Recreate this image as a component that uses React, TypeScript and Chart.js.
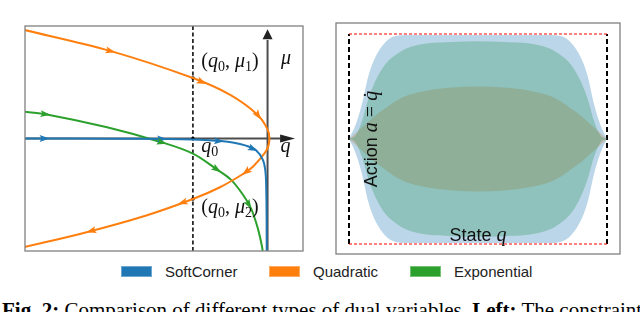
import React, { useEffect, useRef } from "react";
import { Chart, registerables } from "chart.js";

Chart.register(...registerables);

// ---------- Left panel: state q (x) vs dual variable mu (y) ----------
const softCornerQ = [-2.6, -1.6, -1.13, -0.8, -0.52, -0.36, -0.24, -0.124, -0.05, -0.022, -0.013, -0.01, -0.009];
const softCornerMu = [0, -0.002, -0.005, -0.01, -0.023, -0.037, -0.061, -0.104, -0.19, -0.3, -0.5, -0.75, -1.02];

const quadraticQ = [-2.64, -1.68, -0.8, -0.4, -0.11, -0.005, 0.02, -0.008, -0.155, -0.25, -0.51, -0.8, -1.3, -1.97, -2.64];
const quadraticMu = [0.975, 0.78, 0.54, 0.39, 0.215, 0.09, 0, -0.1, -0.25, -0.31, -0.435, -0.54, -0.687, -0.843, -0.975];

const exponentialQ = [-2.65, -2.38, -1.72, -1.13, -0.8, -0.54, -0.396, -0.265, -0.176, -0.105, -0.061, -0.05];
const exponentialMu = [0.243, 0.217, 0.1, -0.035, -0.135, -0.278, -0.365, -0.5, -0.626, -0.8, -0.957, -1.02];

const softCornerArrowQ = [-2.39, -1.13, -0.52, -0.15];
const softCornerArrowMu = [0, -0.005, -0.023, -0.085];
const quadraticArrowQ = [-1.68, -0.7, -0.103, -0.229, -0.91, -1.886];
const quadraticArrowMu = [0.788, 0.51, 0.205, -0.3, -0.577, -0.84];
const exponentialArrowQ = [-2.38, -1.13, -0.554, -0.208];
const exponentialArrowMu = [0.22, -0.03, -0.29, -0.595];

const q0 = -0.8;
const mu1 = 0.54;
const mu2 = -0.54;

// ---------- Right panel: state q (x) vs action a (y) ----------
const stateGrid = [-1, -0.95, -0.9, -0.85, -0.8, -0.72, -0.64, -0.55, -0.4, -0.2, 0, 0.2, 0.4, 0.55, 0.64, 0.72, 0.8, 0.85, 0.9, 0.95, 1];
const softCornerUpper = [0, 0.13, 0.33, 0.6, 0.77, 0.92, 0.98, 0.99, 0.99, 0.99, 0.99, 0.99, 0.99, 0.99, 0.98, 0.92, 0.77, 0.6, 0.33, 0.13, 0];
const softCornerLower = [0, -0.13, -0.33, -0.6, -0.77, -0.92, -0.98, -0.99, -0.99, -0.99, -0.99, -0.99, -0.99, -0.99, -0.98, -0.92, -0.77, -0.6, -0.33, -0.13, 0];
const exponentialUpper = [0, 0.03, 0.17, 0.38, 0.54, 0.71, 0.8, 0.865, 0.91, 0.925, 0.93, 0.925, 0.91, 0.865, 0.8, 0.71, 0.54, 0.38, 0.17, 0.03, 0];
const exponentialLower = [0, -0.03, -0.17, -0.38, -0.54, -0.71, -0.8, -0.865, -0.91, -0.925, -0.93, -0.925, -0.91, -0.865, -0.8, -0.71, -0.54, -0.38, -0.17, -0.03, 0];
const quadraticUpper = [0, 0.055, 0.11, 0.165, 0.22, 0.29, 0.36, 0.415, 0.46, 0.49, 0.5, 0.49, 0.46, 0.415, 0.36, 0.29, 0.22, 0.165, 0.11, 0.055, 0];
const quadraticLower = [0, -0.055, -0.11, -0.165, -0.22, -0.29, -0.36, -0.415, -0.46, -0.49, -0.5, -0.49, -0.46, -0.415, -0.36, -0.29, -0.22, -0.165, -0.11, -0.055, 0];
const stateBounds = [-1, 1];
const actionBounds = [-1, 1];

const seriesNames = ["SoftCorner", "Quadratic", "Exponential"];
const seriesColors = ["#1f77b4", "#ff7f0e", "#2ca02c"];
const seriesFills = ["rgba(31,119,180,0.3)", "rgba(255,127,14,0.3)", "rgba(44,160,44,0.3)"];

const SERIF = '"Liberation Serif", "Times New Roman", serif';
const SANS = '"Liberation Sans", Arial, sans-serif';

const pts = (xs: number[], ys: number[]) => xs.map((x, i) => ({ x, y: ys[i] }));

type Part = [string, string, number?];
function drawRich(ctx: CanvasRenderingContext2D, parts: Part[], x: number, y: number, align: "left" | "center" = "left") {
  ctx.textBaseline = "alphabetic";
  ctx.textAlign = "left";
  const widths = parts.map(([t, f]) => {
    ctx.font = f;
    return ctx.measureText(t).width;
  });
  const total = widths.reduce((a, b) => a + b, 0);
  let cx = align === "center" ? x - total / 2 : x;
  parts.forEach(([t, f, dy], i) => {
    ctx.font = f;
    ctx.fillText(t, cx, y + (dy || 0));
    cx += widths[i];
  });
}

const rm = (s: number) => `${s}px ${SERIF}`;
const it = (s: number) => `italic ${s}px ${SERIF}`;

const leftDecor = {
  id: "leftDecor",
  beforeDatasetsDraw(chart: any) {
    const { ctx, chartArea, scales } = chart;
    const x = scales.x, y = scales.y;
    ctx.save();
    ctx.strokeStyle = "#000";
    ctx.lineWidth = 1.5;
    ctx.setLineDash([4, 2.5]);
    ctx.beginPath();
    const xq0 = x.getPixelForValue(q0);
    ctx.moveTo(xq0, chartArea.top);
    ctx.lineTo(xq0, chartArea.bottom);
    ctx.stroke();
    ctx.setLineDash([]);
    const x0 = x.getPixelForValue(0), y0 = y.getPixelForValue(0);
    ctx.strokeStyle = "#4d4d4d";
    ctx.lineWidth = 2;
    ctx.beginPath();
    ctx.moveTo(x0, chartArea.bottom);
    ctx.lineTo(x0, y.getPixelForValue(0.88));
    ctx.moveTo(chartArea.left, y0);
    ctx.lineTo(x.getPixelForValue(0.14), y0);
    ctx.stroke();
    ctx.fillStyle = "#222";
    ctx.beginPath();
    const muTip = y.getPixelForValue(0.975), muBase = y.getPixelForValue(0.885);
    ctx.moveTo(x0, muTip);
    ctx.lineTo(x0 - 5, muBase);
    ctx.lineTo(x0 + 5, muBase);
    ctx.closePath();
    ctx.fill();
    const qTip = x.getPixelForValue(0.295), qBase = x.getPixelForValue(0.135);
    ctx.beginPath();
    ctx.moveTo(qTip, y0);
    ctx.lineTo(qBase, y0 - 4);
    ctx.lineTo(qBase, y0 + 4);
    ctx.closePath();
    ctx.fill();
    ctx.restore();
  },
  afterDatasetsDraw(chart: any) {
    const { ctx, scales } = chart;
    const x = scales.x, y = scales.y;
    const sets = [
      { ds: 0, qs: softCornerArrowQ, mus: softCornerArrowMu },
      { ds: 1, qs: quadraticArrowQ, mus: quadraticArrowMu },
      { ds: 2, qs: exponentialArrowQ, mus: exponentialArrowMu },
    ];
    ctx.save();
    sets.forEach(({ ds, qs, mus }) => {
      const data = chart.data.datasets[ds].data;
      const p = data.map((d: any) => [x.getPixelForValue(d.x), y.getPixelForValue(d.y)]);
      ctx.fillStyle = seriesColors[ds];
      qs.forEach((q, i) => {
        const px = x.getPixelForValue(q), py = y.getPixelForValue(mus[i]);
        let best = Infinity, bx = px, by = py, dx = 1, dy = 0;
        for (let k = 0; k < p.length - 1; k++) {
          const [x1, y1] = p[k], [x2, y2] = p[k + 1];
          const vx = x2 - x1, vy = y2 - y1;
          const L2 = vx * vx + vy * vy;
          if (!L2) continue;
          let t = ((px - x1) * vx + (py - y1) * vy) / L2;
          t = Math.max(0, Math.min(1, t));
          const cx = x1 + t * vx, cy = y1 + t * vy;
          const d = (cx - px) ** 2 + (cy - py) ** 2;
          if (d < best) {
            best = d; bx = cx; by = cy;
            const L = Math.sqrt(L2);
            dx = vx / L; dy = vy / L;
          }
        }
        const nx = -dy, ny = dx;
        ctx.beginPath();
        ctx.moveTo(bx + dx * 5, by + dy * 5);
        ctx.lineTo(bx - dx * 5 + nx * 3.5, by - dy * 5 + ny * 3.5);
        ctx.lineTo(bx - dx * 3, by - dy * 3);
        ctx.lineTo(bx - dx * 5 - nx * 3.5, by - dy * 5 - ny * 3.5);
        ctx.closePath();
        ctx.fill();
      });
    });
    ctx.fillStyle = "#111";
    const lx = x.getPixelForValue(-0.711);
    drawRich(ctx, [["(", rm(20)], ["q", it(20)], ["0", rm(14), 4], [", ", rm(20)], ["μ", it(20)], ["1", rm(14), 4], [")", rm(20)]], lx, y.getPixelForValue(0.64));
    drawRich(ctx, [["(", rm(20)], ["q", it(20)], ["0", rm(14), 4], [", ", rm(20)], ["μ", it(20)], ["2", rm(14), 4], [")", rm(20)]], lx, y.getPixelForValue(-0.665));
    drawRich(ctx, [["q", it(20)], ["0", rm(14), 4]], lx, y.getPixelForValue(-0.117));
    drawRich(ctx, [["μ", it(20)]], x.getPixelForValue(0.145), y.getPixelForValue(0.665));
    drawRich(ctx, [["q", it(20)]], x.getPixelForValue(0.139), y.getPixelForValue(-0.117));
    ctx.restore();
  },
  afterDraw(chart: any) {
    const { ctx, chartArea } = chart;
    ctx.save();
    ctx.strokeStyle = "#808080";
    ctx.lineWidth = 1.3;
    ctx.strokeRect(chartArea.left, chartArea.top, chartArea.right - chartArea.left, chartArea.bottom - chartArea.top);
    ctx.restore();
  },
};

const rightDecor = {
  id: "rightDecor",
  afterDatasetsDraw(chart: any) {
    const { ctx, scales } = chart;
    const x = scales.x, y = scales.y;
    ctx.save();
    ctx.fillStyle = "#111";
    ctx.translate(x.getPixelForValue(-0.783), y.getPixelForValue(0));
    ctx.rotate(-Math.PI / 2);
    drawRich(ctx, [["Action ", `18px ${SANS}`], ["a", it(20)], [" = ", rm(20)], ["q\u0307", it(20)]], 0, 0, "center");
    ctx.restore();
    ctx.save();
    ctx.fillStyle = "#111";
    drawRich(ctx, [["State ", `18px ${SANS}`], ["q", it(20)]], x.getPixelForValue(0), y.getPixelForValue(-0.971), "center");
    ctx.restore();
  },
  afterDraw(chart: any) {
    const { ctx, chartArea } = chart;
    ctx.save();
    ctx.strokeStyle = "#808080";
    ctx.lineWidth = 1.3;
    ctx.strokeRect(chartArea.left, chartArea.top, chartArea.right - chartArea.left, chartArea.bottom - chartArea.top);
    ctx.restore();
  },
};

export default function App() {
  const leftRef = useRef<HTMLCanvasElement>(null);
  const rightRef = useRef<HTMLCanvasElement>(null);

  useEffect(() => {
    const lineDs = (label: string, data: any[], color: string) => ({
      label,
      data,
      showLine: true,
      borderColor: color,
      backgroundColor: color,
      borderWidth: 2,
      pointRadius: 0,
      tension: 0.35,
      fill: false,
      borderCapStyle: "round",
      borderJoinStyle: "round",
    });
    const left = new Chart(leftRef.current!, {
      type: "scatter",
      data: {
        datasets: [
          lineDs(seriesNames[0], pts(softCornerQ, softCornerMu), seriesColors[0]),
          lineDs(seriesNames[1], pts(quadraticQ, quadraticMu), seriesColors[1]),
          lineDs(seriesNames[2], pts(exponentialQ, exponentialMu), seriesColors[2]),
          {
            label: "points",
            data: [{ x: q0, y: mu1 }, { x: q0, y: 0 }, { x: q0, y: mu2 }],
            showLine: false,
            pointRadius: 1.8,
            backgroundColor: "#000",
            borderWidth: 0,
          },
        ] as any,
      },
      options: {
        animation: false,
        responsive: false,
        events: [],
        layout: { padding: 1 },
        plugins: { legend: { display: false }, tooltip: { enabled: false } },
        scales: {
          x: { type: "linear", min: -2.6, max: 0.38, display: false },
          y: { type: "linear", min: -1.004, max: 1.004, display: false },
        },
      },
      plugins: [leftDecor],
    });

    const band = (data: any[], color: string, fill: any) => ({
      data,
      borderWidth: 0,
      borderColor: "rgba(0,0,0,0)",
      backgroundColor: color,
      pointRadius: 0,
      fill,
      cubicInterpolationMode: "monotone",
    });
    const edge = (data: any[], color: string, width: number, dash: number[]) => ({
      data,
      borderColor: color,
      borderWidth: width,
      borderDash: dash,
      pointRadius: 0,
      fill: false,
      tension: 0,
    });
    const right = new Chart(rightRef.current!, {
      type: "line",
      data: {
        datasets: [
          band(pts(stateGrid, softCornerUpper), seriesFills[0], "+1"),
          band(pts(stateGrid, softCornerLower), seriesFills[0], false),
          band(pts(stateGrid, exponentialUpper), seriesFills[2], "+1"),
          band(pts(stateGrid, exponentialLower), seriesFills[2], false),
          band(pts(stateGrid, quadraticUpper), seriesFills[1], "+1"),
          band(pts(stateGrid, quadraticLower), seriesFills[1], false),
          edge([{ x: stateBounds[0], y: actionBounds[1] }, { x: stateBounds[1], y: actionBounds[1] }], "#ff0000", 1.2, [3, 2]),
          edge([{ x: stateBounds[0], y: actionBounds[0] }, { x: stateBounds[1], y: actionBounds[0] }], "#ff0000", 1.2, [3, 2]),
          edge([{ x: stateBounds[0], y: actionBounds[0] }, { x: stateBounds[0], y: actionBounds[1] }], "#000", 2, [5, 3]),
          edge([{ x: stateBounds[1], y: actionBounds[0] }, { x: stateBounds[1], y: actionBounds[1] }], "#000", 2, [5, 3]),
        ] as any,
      },
      options: {
        animation: false,
        responsive: false,
        events: [],
        layout: { padding: 1 },
        plugins: { legend: { display: false }, tooltip: { enabled: false } },
        scales: {
          x: { type: "linear", min: -1.1008, max: 1.1008, display: false },
          y: { type: "linear", min: -1.0952, max: 1.1048, display: false },
        },
      },
      plugins: [rightDecor],
    });
    return () => {
      left.destroy();
      right.destroy();
    };
  }, []);

  const legendX = [121, 269, 410];
  return (
    <div style={{ position: "fixed", left: 0, top: 0, width: 640, height: 312, overflow: "hidden", background: "#fff" }}>
      <canvas ref={leftRef} width={286} height={233} style={{ position: "absolute", left: 21, top: 22 }} />
      <canvas ref={rightRef} width={286} height={233} style={{ position: "absolute", left: 335, top: 22 }} />
      {seriesNames.map((n, i) => (
        <React.Fragment key={n}>
          <div
            style={{
              position: "absolute",
              left: legendX[i],
              top: 266,
              width: 31,
              height: 11,
              background: seriesColors[i],
              boxSizing: "border-box",
              border: "1px solid rgba(255,255,255,0.35)",
            }}
          />
          <div
            style={{
              position: "absolute",
              left: legendX[i] + 44,
              top: 264,
              font: `15px ${SANS}`,
              lineHeight: "15px",
              color: "#222",
              whiteSpace: "nowrap",
            }}
          >
            {n}
          </div>
        </React.Fragment>
      ))}
      <div
        style={{
          position: "absolute",
          left: 2,
          top: 300,
          font: `21px ${SERIF}`,
          lineHeight: "21px",
          color: "#000",
          whiteSpace: "nowrap",
        }}
      >
        <b>Fig. 2:</b> Comparison of different types of dual variables. <b>Left:</b> The constraint is
      </div>
    </div>
  );
}
